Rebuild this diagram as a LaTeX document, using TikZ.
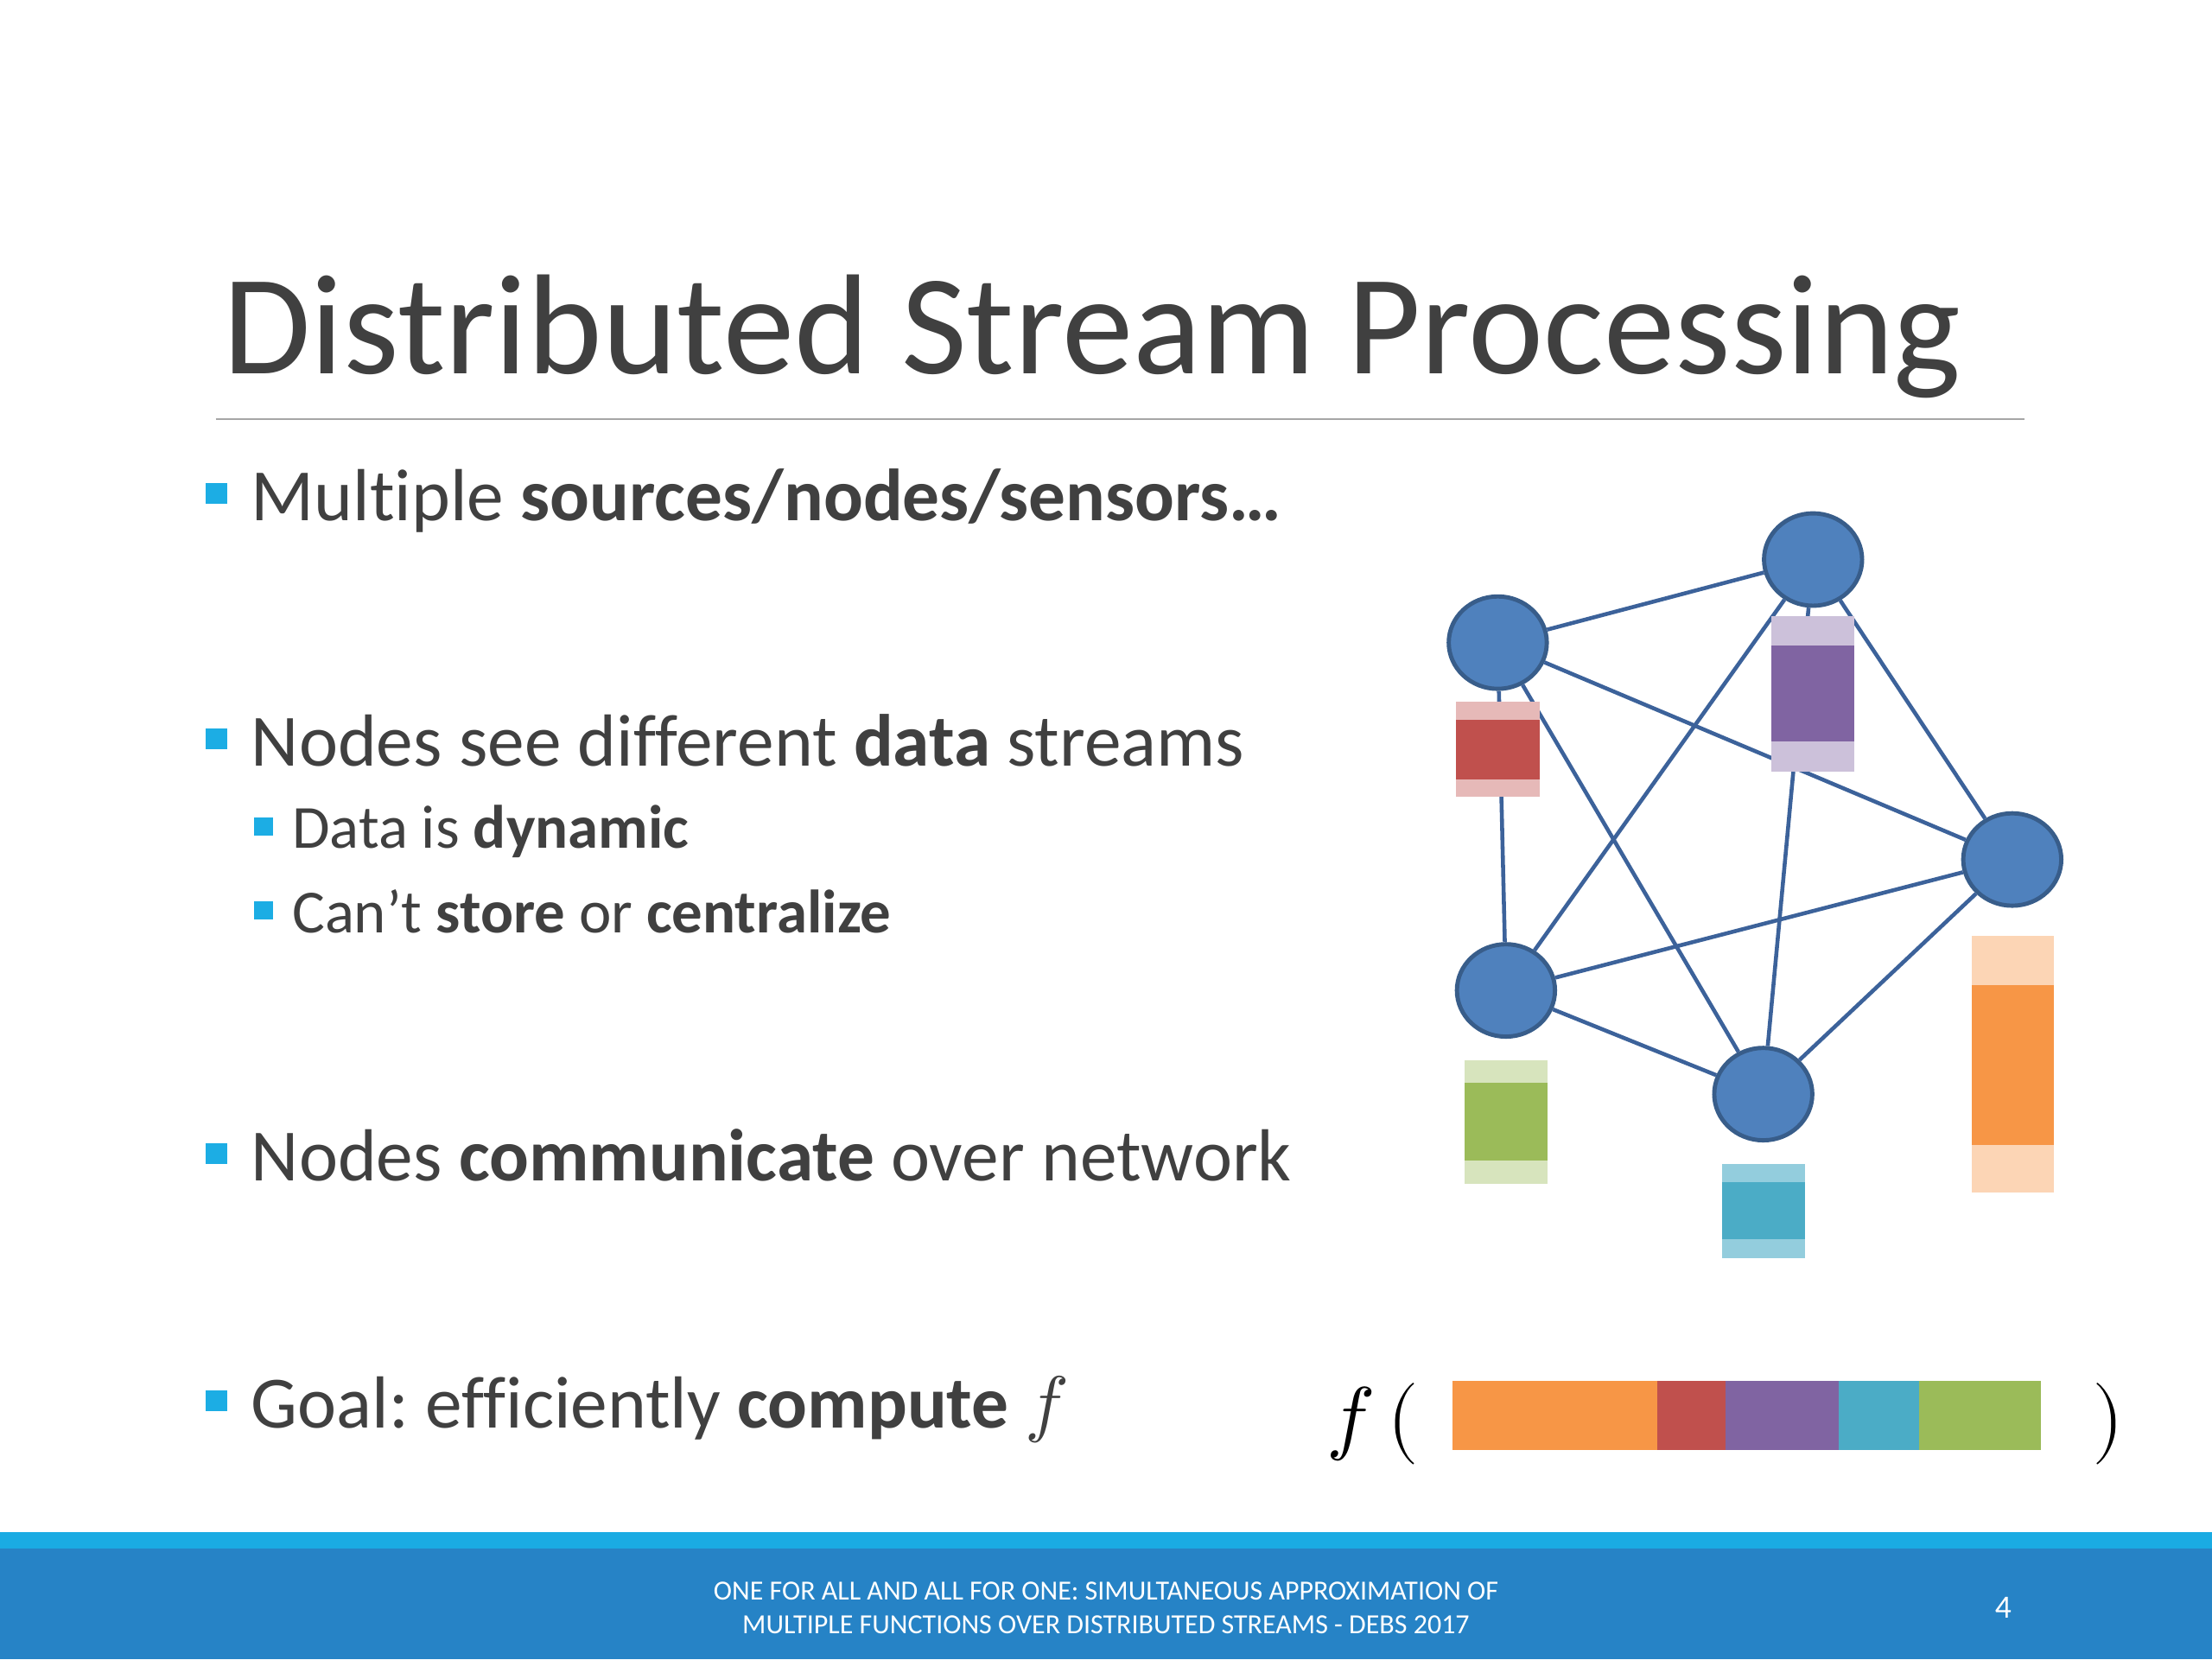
\documentclass[tikz,border=0pt]{standalone}
\usepackage{unicode-math}
\setmainfont{Carlito}[Ligatures=NoCommon]
\setmathfont{Latin Modern Math}
\usetikzlibrary{shapes.geometric}
\definecolor{txt}{HTML}{404040}
\definecolor{bulletc}{HTML}{1CADE4}
\definecolor{rulec}{HTML}{A6A6A6}
\definecolor{footlight}{HTML}{1AABE3}
\definecolor{footdark}{HTML}{2683C6}
\definecolor{nodefill}{HTML}{4F81BD}
\definecolor{nodeborder}{HTML}{385D8A}
\definecolor{edgec}{HTML}{3C629A}
\definecolor{redD}{HTML}{C0504D}
\definecolor{redL}{HTML}{E6B9B8}
\definecolor{purD}{HTML}{8064A2}
\definecolor{purL}{HTML}{CCC1DA}
\definecolor{oraD}{HTML}{F79646}
\definecolor{oraL}{HTML}{FCD5B5}
\definecolor{grnD}{HTML}{9BBB59}
\definecolor{grnL}{HTML}{D7E4BD}
\definecolor{cyaD}{HTML}{4BACC6}
\definecolor{cyaL}{HTML}{93CDDD}
\frenchspacing
\tikzset{
  lvlone/.style={anchor=base west, inner sep=0pt, text=txt, font=\fontsize{52.3}{60}\selectfont},
  lvltwo/.style={anchor=base west, inner sep=0pt, text=txt, font=\fontsize{43.4}{50}\selectfont},
  gnode/.style={ellipse, fill=nodefill, draw=nodeborder, line width=3pt, minimum width=69.5pt, minimum height=65.5pt, inner sep=0pt},
  edge/.style={draw=edgec, line width=2.8pt},
  foottext/.style={anchor=base, inner sep=0pt, text=white, font=\fontsize{19.6}{22}\selectfont}
}
\begin{document}
\begin{tikzpicture}[x=1pt,y=-1pt]
\useasboundingbox (0,0) rectangle (1568,1176);
\fill[white] (0,0) rectangle (1568,1176);

% title
\node[anchor=base west, inner sep=0pt, text=txt, font=\fontsize{101}{110}\selectfont] (title) at (158,265) {Distributed Stream Processing};
\draw[rulec, line width=1.2pt] (153,297) -- (1435,297);

% bullets
\fill[bulletc] (146,342.4) rectangle (161,357);
\fill[bulletc] (146,516.4) rectangle (161,531);
\fill[bulletc] (146,810.4) rectangle (161,825);
\fill[bulletc] (146,985.4) rectangle (161,1000);
\fill[bulletc] (180,579.4) rectangle (193.4,592);
\fill[bulletc] (180,639) rectangle (193.4,651.6);

\node[lvlone] (b1) at (178,369) {Multiple \textbf{sources/nodes/sensors…}};
\node[lvlone] (b2) at (178,543) {Nodes see different \textbf{data} streams};
\node[lvltwo] (s1) at (207,601) {Data is \textbf{dynamic}};
\node[lvltwo] (s2) at (207,661) {Can’t \textbf{store} or \textbf{centralize}};
\node[lvlone] (b3) at (178,837) {Nodes \textbf{communicate} over network};
\node[lvlone] (b4) at (178,1012) {Goal: efficiently \textbf{compute} $f$};

% graph nodes
\node[gnode] (A) at (1061.7,455.5) {};
\node[gnode] (B) at (1285.2,396.6) {};
\node[gnode] (C) at (1426.4,609.2) {};
\node[gnode] (D) at (1067.5,702) {};
\node[gnode] (E) at (1249.9,775.5) {};

% edges (complete graph)
\draw[edge] (A) -- (B);
\draw[edge] (A) -- (C);
\draw[edge] (A) -- (D);
\draw[edge] (A) -- (E);
\draw[edge] (B) -- (C);
\draw[edge] (B) -- (D);
\draw[edge] (B) -- (E);
\draw[edge] (C) -- (D);
\draw[edge] (C) -- (E);
\draw[edge] (D) -- (E);

% data boxes
\fill[redL] (1032.2,497.5) rectangle (1091.5,564.7);
\fill[redD] (1032.2,509.9) rectangle (1091.5,552.4);
\fill[purL] (1255.6,436.4) rectangle (1314.3,546.8);
\fill[purD] (1255.6,457.5) rectangle (1314.3,525.7);
\fill[oraL] (1397.5,663.2) rectangle (1456,845.2);
\fill[oraD] (1397.5,698) rectangle (1456,811.6);
\fill[grnL] (1038.4,751.8) rectangle (1096.9,839);
\fill[grnD] (1038.4,767.6) rectangle (1096.9,822.8);
\fill[cyaL] (1220.4,824.9) rectangle (1279.5,892);
\fill[cyaD] (1220.4,837.9) rectangle (1279.5,878.3);

% f( bar )
\node[anchor=base west, inner sep=0pt, font=\fontsize{58}{60}\selectfont] (fopen) at (940,1024) {$f\,($};
\fill[oraD] (1029.3,979) rectangle (1174.9,1028);
\fill[redD] (1174.9,979) rectangle (1223.4,1028);
\fill[purD] (1223.4,979) rectangle (1303.5,1028);
\fill[cyaD] (1303.5,979) rectangle (1360.5,1028);
\fill[grnD] (1360.5,979) rectangle (1446.8,1028);
\node[anchor=base west, inner sep=0pt, font=\fontsize{58}{60}\selectfont] (fclose) at (1483,1024) {$)$};

% footer
\fill[footlight] (0,1085.8) rectangle (1568,1097.8);
\fill[footdark] (0,1097.8) rectangle (1568,1176);
\node[foottext] (foot1) at (784,1134) {ONE FOR ALL AND ALL FOR ONE: SIMULTANEOUS APPROXIMATION OF};
\node[foottext] (foot2) at (784,1158) {MULTIPLE FUNCTIONS OVER DISTRIBUTED STREAMS - DEBS 2017};
\node[anchor=base west, inner sep=0pt, text=white, font=\fontsize{23}{25}\selectfont] (pnum) at (1414,1147) {4};
\end{tikzpicture}
\end{document}
